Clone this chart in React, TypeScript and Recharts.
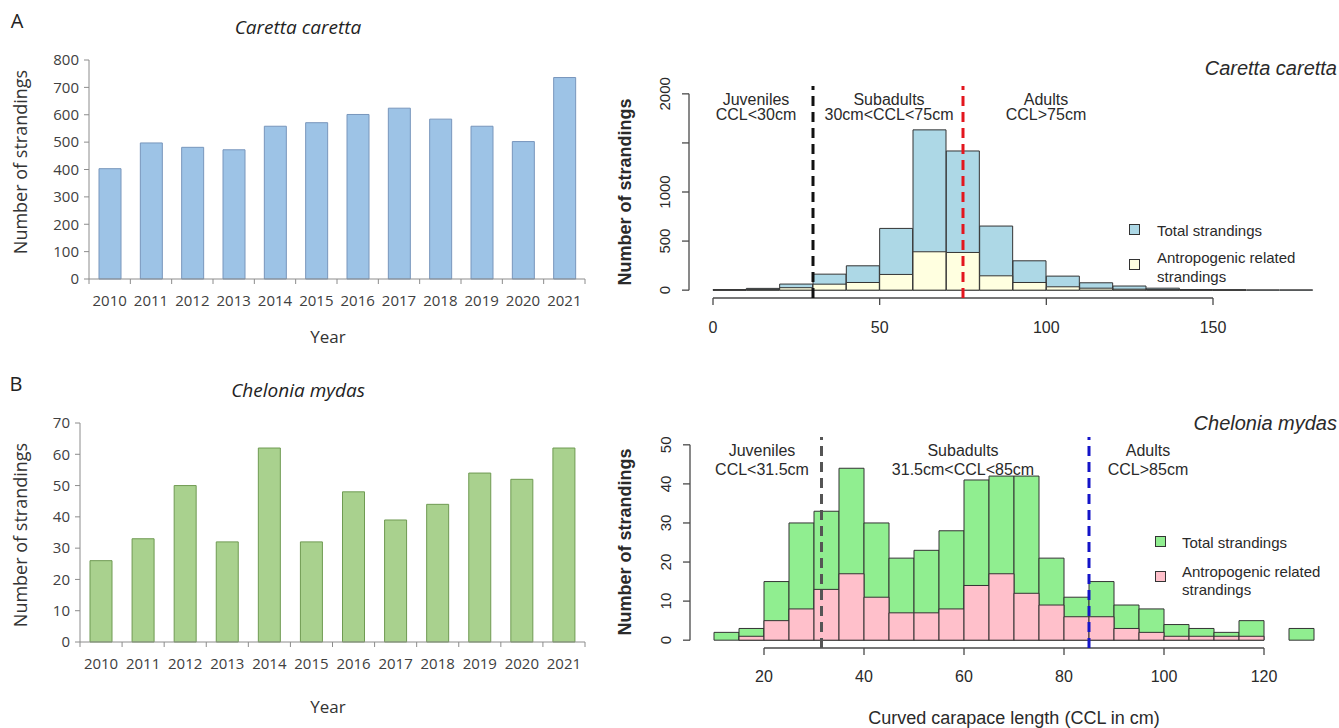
import React from 'react';
import { BarChart, Bar, XAxis, YAxis, ReferenceLine } from 'recharts';

// ---------- Data ----------
const YEARS = ['2010', '2011', '2012', '2013', '2014', '2015', '2016', '2017', '2018', '2019', '2020', '2021'];
const CC_STRANDINGS_BY_YEAR = [403, 497, 481, 472, 558, 571, 601, 624, 584, 558, 502, 736];
const CM_STRANDINGS_BY_YEAR = [26, 33, 50, 32, 62, 32, 48, 39, 44, 54, 52, 62];
const A_Y_TICKS = [0, 100, 200, 300, 400, 500, 600, 700, 800];
const B_Y_TICKS = [0, 10, 20, 30, 40, 50, 60, 70];

const CC_BIN_START = [0, 10, 20, 30, 40, 50, 60, 70, 80, 90, 100, 110, 120, 130, 140, 150, 160, 170];
const CC_BIN_WIDTH = 10;
const CC_TOTAL = [5, 18, 62, 163, 248, 629, 1633, 1418, 653, 299, 143, 75, 42, 20, 5, 3, 2, 2];
const CC_ANTHRO = [1, 5, 25, 61, 78, 160, 391, 384, 146, 78, 34, 20, 10, 5, 1, 1, 0, 0];
const C_Y_TICKS = [0, 500, 1000, 1500, 2000];
const C_Y_LABELLED = [0, 500, 1000, 2000];
const C_X_TICKS = [0, 50, 100, 150];
const CC_JUVENILE_LIMIT = 30;
const CC_ADULT_LIMIT = 75;

const CM_BIN_START = [10, 15, 20, 25, 30, 35, 40, 45, 50, 55, 60, 65, 70, 75, 80, 85, 90, 95, 100, 105, 110, 115, 120, 125];
const CM_BIN_WIDTH = 5;
const CM_TOTAL = [2, 3, 15, 30, 33, 44, 30, 21, 23, 28, 41, 42, 42, 21, 11, 15, 9, 8, 4, 3, 2, 5, 0, 3];
const CM_ANTHRO = [0, 1, 5, 8, 13, 17, 11, 7, 7, 8, 14, 17, 12, 9, 6, 6, 3, 2, 1, 1, 1, 1, 0, 0];
const D_Y_TICKS = [0, 10, 20, 30, 40, 50];
const D_X_TICKS = [20, 40, 60, 80, 100, 120];
const CM_JUVENILE_LIMIT = 31.5;
const CM_ADULT_LIMIT = 85;

// ---------- Derived tables ----------
const ccYearData = YEARS.map((year, i) => ({ year, value: CC_STRANDINGS_BY_YEAR[i] }));
const cmYearData = YEARS.map((year, i) => ({ year, value: CM_STRANDINGS_BY_YEAR[i] }));
const ccHistData = CC_BIN_START.map((s, i) => ({ bin: `${s}-${s + CC_BIN_WIDTH}`, start: s, total: CC_TOTAL[i], anthro: CC_ANTHRO[i] }));
const cmHistData = CM_BIN_START.map((s, i) => ({ bin: `${s}-${s + CM_BIN_WIDTH}`, start: s, total: CM_TOTAL[i], anthro: CM_ANTHRO[i] }));

// R-style 4% axis extension
const ext = (lo: number, hi: number): [number, number] => [lo - 0.04 * (hi - lo), hi + 0.04 * (hi - lo)];
const C_X_DOMAIN = ext(0, 180);
const C_Y_DOMAIN = ext(0, 2000);
const D_X_DOMAIN = ext(10, 130);
const D_Y_DOMAIN = ext(0, 50);

// ---------- Styles ----------
const R_FONT = '"Liberation Sans", Arial, Helvetica, sans-serif';
const X_FONT = '"Open Sans", "Noto Sans", sans-serif';
const EXCEL_AXIS = '#8c8c8c';
const R_AXIS = '#4a4a4a';
const R_TEXT = '#2a2a2a';

type TxtProps = {
  x: number; y: number; size: number; font: string; children: React.ReactNode;
  italic?: boolean; bold?: boolean; rotate?: boolean; anchor?: 'start' | 'middle' | 'end'; color?: string;
};
function Txt({ x, y, size, font, children, italic, bold, rotate, anchor = 'middle', color = R_TEXT }: TxtProps) {
  const tx = anchor === 'middle' ? '-50%' : anchor === 'end' ? '-100%' : '0%';
  return (
    <div
      style={{
        position: 'absolute', left: x, top: y,
        transform: `translate(${tx},-50%)${rotate ? ' rotate(-90deg)' : ''}`,
        fontSize: size, fontFamily: font, fontStyle: italic ? 'italic' : 'normal',
        fontWeight: bold ? 700 : 400, color, whiteSpace: 'nowrap', lineHeight: 1,
      }}
    >
      {children}
    </div>
  );
}

function LegendBox({ x, y, fill }: { x: number; y: number; fill: string }) {
  return <div style={{ position: 'absolute', left: x, top: y, width: 11, height: 11, background: fill, border: '1px solid #333', boxSizing: 'border-box' }} />;
}

function makeYearTick(count: number) {
  return (props: any) => {
    const { x, y, payload, index } = props;
    const half = typeof payload?.offset === 'number' ? payload.offset : 0;
    return (
      <g>
        <line x1={x - half} y1={y} x2={x - half} y2={y + 5} stroke={EXCEL_AXIS} />
        {index === count - 1 ? <line x1={x + half} y1={y} x2={x + half} y2={y + 5} stroke={EXCEL_AXIS} /> : null}
        <text x={x} y={y + 27} textAnchor="middle" fontSize={15} fontFamily={X_FONT} fill="#404040">{payload.value}</text>
      </g>
    );
  };
}

function makeRotTick(labelled: number[]) {
  return (props: any) => {
    const { x, y, payload } = props;
    if (!labelled.includes(payload.value)) return <g />;
    return (
      <text x={x} y={y} transform={`rotate(-90 ${x} ${y})`} textAnchor="middle" fontSize={15} fontFamily={R_FONT} fill={R_TEXT}>
        {payload.value}
      </text>
    );
  };
}

function ExcelPanel({ top, height, data, yMax, yTicks, fill, stroke, marginTop, marginLeft, marginBottom }: any) {
  return (
    <div style={{ position: 'absolute', left: 0, top }}>
      <BarChart width={600} height={height} data={data} margin={{ top: marginTop, right: 15, left: marginLeft, bottom: marginBottom }}>
        <XAxis dataKey="year" interval={0} height={30} axisLine={{ stroke: EXCEL_AXIS }} tickLine={false} tickSize={0} tickMargin={0} tick={makeYearTick(data.length)} />
        <YAxis domain={[0, yMax]} ticks={yTicks} interval={0} width={50} axisLine={{ stroke: EXCEL_AXIS }} tickLine={{ stroke: EXCEL_AXIS }} tickSize={5} tickMargin={5} tick={{ fontSize: 15, fill: '#404040', fontFamily: X_FONT }} />
        <Bar dataKey="value" fill={fill} stroke={stroke} strokeWidth={1} barSize={22} isAnimationActive={false} />
      </BarChart>
    </div>
  );
}

function HistPanel({ top, height, data, xDomain, yDomain, xTicks, yTicks, yLabelled, axisX, axisY, juv, adult, juvColor, adultColor, totalFill, anthroFill, marginTop, marginBottom, marginLeft, marginRight, tickMargin }: any) {
  const pad = { left: 24, right: 24 };
  return (
    <div style={{ position: 'absolute', left: 600, top }}>
      <BarChart width={739} height={height} data={data} margin={{ top: marginTop, right: marginRight, left: marginLeft, bottom: marginBottom }} barCategoryGap={0} barGap={0}>
        <XAxis xAxisId="num" dataKey="start" type="number" domain={xDomain} allowDataOverflow ticks={xTicks} interval={0} height={30} axisLine={false} tickLine={{ stroke: R_AXIS, strokeWidth: 1.3 }} tickSize={7} tickMargin={tickMargin} tick={{ fontSize: 16, fill: R_TEXT, fontFamily: R_FONT }} />
        <XAxis xAxisId="t" dataKey="bin" type="category" hide height={0} padding={pad} />
        <XAxis xAxisId="a" dataKey="bin" type="category" hide height={0} padding={pad} />
        <YAxis domain={yDomain} allowDataOverflow ticks={yTicks} interval={0} width={50} axisLine={false} tickLine={{ stroke: R_AXIS, strokeWidth: 1.3 }} tickSize={7} tickMargin={12} tick={makeRotTick(yLabelled)} />
        <Bar xAxisId="t" dataKey="total" fill={totalFill} stroke="#333" strokeWidth={1} isAnimationActive={false} />
        <Bar xAxisId="a" dataKey="anthro" fill={anthroFill} stroke="#333" strokeWidth={1} isAnimationActive={false} />
        <ReferenceLine xAxisId="num" ifOverflow="visible" segment={[{ x: axisX[0], y: yDomain[0] }, { x: axisX[1], y: yDomain[0] }]} stroke={R_AXIS} strokeWidth={1.3} />
        <ReferenceLine xAxisId="num" ifOverflow="visible" segment={[{ x: xDomain[0], y: axisY[0] }, { x: xDomain[0], y: axisY[1] }]} stroke={R_AXIS} strokeWidth={1.3} />
        <ReferenceLine xAxisId="num" ifOverflow="visible" x={juv} stroke={juvColor} strokeWidth={3} strokeDasharray="10 6" />
        <ReferenceLine xAxisId="num" ifOverflow="visible" x={adult} stroke={adultColor} strokeWidth={3} strokeDasharray="10 6" />
      </BarChart>
    </div>
  );
}

export default function App() {
  return (
    <div style={{ position: 'absolute', left: 0, top: 0, width: 1339, height: 728, background: '#fff', overflow: 'hidden' }}>
      {/* Panel A */}
      <ExcelPanel top={0} height={360} data={ccYearData} yMax={800} yTicks={A_Y_TICKS} fill="#9DC3E6" stroke="#7896BC" marginTop={60} marginLeft={39} marginBottom={51} />
      <Txt x={17} y={21} size={20} font={X_FONT} color="#222">A</Txt>
      <Txt x={298} y={27} size={19} font={X_FONT} italic color="#222">Caretta caretta</Txt>
      <Txt x={20} y={162} size={18} font={X_FONT} rotate color="#333">Number of strandings</Txt>
      <Txt x={328} y={336} size={17} font={X_FONT} color="#333">Year</Txt>

      {/* Panel B */}
      <ExcelPanel top={360} height={368} data={cmYearData} yMax={70} yTicks={B_Y_TICKS} fill="#A9D18E" stroke="#6F9A52" marginTop={63} marginLeft={30} marginBottom={56} />
      <Txt x={16} y={384} size={20} font={X_FONT} color="#222">B</Txt>
      <Txt x={298} y={390} size={19} font={X_FONT} italic color="#222">Chelonia mydas</Txt>
      <Txt x={20} y={535} size={18} font={X_FONT} rotate color="#333">Number of strandings</Txt>
      <Txt x={328} y={706} size={17} font={X_FONT} color="#333">Year</Txt>

      {/* Panel C */}
      <HistPanel top={40} height={300} data={ccHistData} xDomain={C_X_DOMAIN} yDomain={C_Y_DOMAIN} xTicks={C_X_TICKS} yTicks={C_Y_TICKS} yLabelled={C_Y_LABELLED}
        axisX={[0, 150]} axisY={[0, 2000]} juv={CC_JUVENILE_LIMIT} adult={CC_ADULT_LIMIT} juvColor="#111" adultColor="#E3161E"
        totalFill="#ADD8E6" anthroFill="#FFFFE0" marginTop={46} marginBottom={12} marginLeft={39} marginRight={2} tickMargin={17} />
      <Txt x={1337} y={68} size={20} font={R_FONT} italic anchor="end">Caretta caretta</Txt>
      <Txt x={625} y={192} size={18} font={R_FONT} bold rotate>Number of strandings</Txt>
      <Txt x={756} y={100} size={16} font={R_FONT}>Juveniles</Txt>
      <Txt x={756} y={115} size={16} font={R_FONT}>CCL&lt;30cm</Txt>
      <Txt x={889} y={100} size={16} font={R_FONT}>Subadults</Txt>
      <Txt x={889} y={115} size={16} font={R_FONT}>30cm&lt;CCL&lt;75cm</Txt>
      <Txt x={1046} y={100} size={16} font={R_FONT}>Adults</Txt>
      <Txt x={1046} y={115} size={16} font={R_FONT}>CCL&gt;75cm</Txt>
      <LegendBox x={1129} y={224} fill="#ADD8E6" />
      <Txt x={1157} y={230} size={15} font={R_FONT} anchor="start">Total strandings</Txt>
      <LegendBox x={1129} y={259} fill="#FFFFE0" />
      <Txt x={1157} y={257} size={15} font={R_FONT} anchor="start">Antropogenic related</Txt>
      <Txt x={1157} y={276} size={15} font={R_FONT} anchor="start">strandings</Txt>

      {/* Panel D */}
      <HistPanel top={400} height={328} data={cmHistData} xDomain={D_X_DOMAIN} yDomain={D_Y_DOMAIN} xTicks={D_X_TICKS} yTicks={D_Y_TICKS} yLabelled={D_Y_TICKS}
        axisX={[20, 120]} axisY={[0, 50]} juv={CM_JUVENILE_LIMIT} adult={CM_ADULT_LIMIT} juvColor="#555" adultColor="#1414C8"
        totalFill="#90EE90" anthroFill="#FFC0CB" marginTop={37} marginBottom={50} marginLeft={40} marginRight={1} tickMargin={16} />
      <Txt x={1337} y={423} size={20} font={R_FONT} italic anchor="end">Chelonia mydas</Txt>
      <Txt x={625} y={542} size={18} font={R_FONT} bold rotate>Number of strandings</Txt>
      <Txt x={762} y={451} size={16} font={R_FONT}>Juveniles</Txt>
      <Txt x={762} y={470} size={16} font={R_FONT}>CCL&lt;31.5cm</Txt>
      <Txt x={963} y={451} size={16} font={R_FONT}>Subadults</Txt>
      <Txt x={963} y={470} size={16} font={R_FONT}>31.5cm&lt;CCL&lt;85cm</Txt>
      <Txt x={1148} y={451} size={16} font={R_FONT}>Adults</Txt>
      <Txt x={1148} y={470} size={16} font={R_FONT}>CCL&gt;85cm</Txt>
      <LegendBox x={1155} y={536} fill="#90EE90" />
      <Txt x={1182} y={542} size={15} font={R_FONT} anchor="start">Total strandings</Txt>
      <LegendBox x={1155} y={571} fill="#FFC0CB" />
      <Txt x={1182} y={571} size={15} font={R_FONT} anchor="start">Antropogenic related</Txt>
      <Txt x={1182} y={589} size={15} font={R_FONT} anchor="start">strandings</Txt>
      <Txt x={1014} y={718} size={18} font={R_FONT}>Curved carapace length (CCL in cm)</Txt>
    </div>
  );
}
